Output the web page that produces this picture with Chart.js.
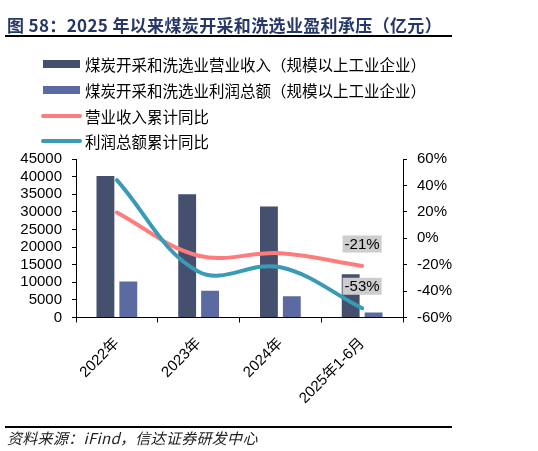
<!DOCTYPE html>
<html><head><meta charset="utf-8">
<script src="https://cdn.jsdelivr.net/npm/chart.js@4"></script>
<style>
html,body{margin:0;padding:0;background:#fff;}
#wrap{position:relative;width:538px;height:451px;overflow:hidden;background:#fff;}
canvas{position:absolute;left:0;top:0;}
.t{position:absolute;white-space:nowrap;}
.row{position:absolute;left:0;height:20px;white-space:nowrap;font:15.5px/20px 'Noto Sans CJK SC','Liberation Sans',sans-serif;color:#000;}
.sw{position:absolute;}
.lt{position:absolute;left:85px;top:0;}
</style></head><body>
<div id="wrap">
<canvas id="c" width="538" height="451" style="width:538px;height:451px"></canvas>
<div class="t" style="left:7px;top:15px;font:bold 17px/20px 'Noto Sans CJK SC',sans-serif;letter-spacing:0.35px;color:#263769;">图 58：2025 年以来煤炭开采和洗选业盈利承压（亿元）</div>
<div style="position:absolute;left:5px;top:35px;width:447px;height:2px;background:#000"></div>
<div id="legend"></div>
<div style="position:absolute;left:5px;top:426px;width:447px;height:2px;background:#000"></div>
<div class="t" style="left:7px;top:428px;font:italic 15px/20px 'Noto Sans CJK SC',sans-serif;letter-spacing:0.3px;color:#222;">资料来源：iFind，信达证券研发中心</div>
</div>
<script>
const categories = ['2022年', '2023年', '2024年', '2025年1-6月'];
const revenue = [40200, 35000, 31500, 12300];
const profit = [10200, 7600, 6000, 1400];
const revenueYoY = [19.5, -13.2, -11.3, -21];
const profitYoY = [44, -25.3, -22, -53];
const seriesNames = [
  '煤炭开采和洗选业营业收入（规模以上工业企业）',
  '煤炭开采和洗选业利润总额（规模以上工业企业）',
  '营业收入累计同比',
  '利润总额累计同比'
];
const leftAxis = {min: 0, max: 45000, step: 5000};
const rightAxis = {min: -60, max: 60, step: 20};

const tickFont = {family: "'Liberation Sans', Arial, 'Noto Sans CJK SC', sans-serif", size: 15};

const lastLabelPlugin = {
  id: 'lastLabel',
  afterDatasetsDraw(chart) {
    const ctx = chart.ctx;
    chart.data.datasets.forEach((ds, i) => {
      if (!ds.lastLabel) return;
      const meta = chart.getDatasetMeta(i);
      const n = meta.data.length - 1;
      const pt = meta.data[n];
      const txt = Math.round(ds.data[n]) + '%';
      ctx.save();
      ctx.font = "15px 'Liberation Sans', Arial, sans-serif";
      const w = ctx.measureText(txt).width + 4;
      const h = 17;
      const cx = pt.x, cy = pt.y - 22;
      ctx.fillStyle = '#cdcdcd';
      ctx.fillRect(cx - w / 2, cy - h / 2, w, h);
      ctx.fillStyle = '#000';
      ctx.textAlign = 'center';
      ctx.textBaseline = 'middle';
      ctx.fillText(txt, cx, cy + 1);
      ctx.restore();
    });
  }
};

const chart = new Chart(document.getElementById('c'), {
  type: 'bar',
  data: {
    labels: categories,
    datasets: [
      {type: 'bar', label: seriesNames[0], data: revenue, backgroundColor: '#454f6e', yAxisID: 'y', order: 2,
       barPercentage: 0.78, categoryPercentage: 0.56, kind: 'bar'},
      {type: 'bar', label: seriesNames[1], data: profit, backgroundColor: '#5b6aa0', yAxisID: 'y', order: 2,
       barPercentage: 0.78, categoryPercentage: 0.56, kind: 'bar'},
      {type: 'line', label: seriesNames[2], data: revenueYoY, borderColor: '#ff7c7c', backgroundColor: '#ff7c7c',
       borderWidth: 4, pointRadius: 0, tension: 0.38, borderCapStyle: 'round', yAxisID: 'y1', order: 1, lastLabel: true, kind: 'line'},
      {type: 'line', label: seriesNames[3], data: profitYoY, borderColor: '#3a9bb6', backgroundColor: '#3a9bb6',
       borderWidth: 4, pointRadius: 0, tension: 0.38, borderCapStyle: 'round', yAxisID: 'y1', order: 0, lastLabel: true, kind: 'line'}
    ]
  },
  options: {
    responsive: false,
    animation: false,
    layout: {padding: {top: 159, left: 0, right: 0, bottom: 0}},
    plugins: {legend: {display: false}, tooltip: {enabled: false}, title: {display: false}},
    scales: {
      x: {
        offset: true,
        grid: {display: true, drawOnChartArea: false, tickLength: 5, color: '#000', offset: true},
        border: {display: true, color: '#000', width: 1},
        ticks: {color: '#000', font: tickFont, minRotation: 45, maxRotation: 45, padding: 12, autoSkip: false},
        afterFit(s) { s.height = 451 - 317.5; }
      },
      y: {
        position: 'left',
        min: leftAxis.min, max: leftAxis.max,
        grid: {display: true, drawOnChartArea: false, tickLength: 4, color: '#000'},
        border: {display: true, color: '#000', width: 1},
        ticks: {stepSize: leftAxis.step, color: '#000', font: tickFont, padding: 10, autoSkip: false, callback: v => String(v)},
        afterFit(s) { s.width = 76; }
      },
      y1: {
        position: 'right',
        min: rightAxis.min, max: rightAxis.max,
        grid: {display: true, drawOnChartArea: false, tickLength: 4, color: '#000'},
        border: {display: true, color: '#000', width: 1},
        ticks: {stepSize: rightAxis.step, color: '#000', font: tickFont, padding: 10, autoSkip: false, callback: v => v + '%'},
        afterFit(s) { s.width = 538 - 403; }
      }
    }
  },
  plugins: [lastLabelPlugin]
});

// HTML legend built from the chart's datasets
const legend = document.getElementById('legend');
const rowsY = [64, 90, 116, 141];
chart.data.datasets.forEach((ds, i) => {
  const row = document.createElement('div');
  row.className = 'row';
  row.style.top = (rowsY[i] - 10) + 'px';
  row.style.width = '470px';
  const sw = document.createElement('div');
  sw.className = 'sw';
  if (ds.kind === 'bar') {
    sw.style.cssText = 'left:43px;top:6px;width:37px;height:8px;background:' + ds.backgroundColor;
  } else {
    sw.style.cssText = 'left:41px;top:8px;width:41px;height:4px;border-radius:2px;background:' + ds.borderColor;
  }
  const t = document.createElement('div');
  t.className = 'lt';
  t.textContent = ds.label;
  row.appendChild(sw);
  row.appendChild(t);
  legend.appendChild(row);
});
</script>
</body></html>
